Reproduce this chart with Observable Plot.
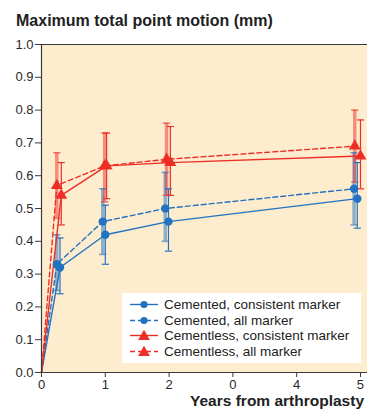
<!DOCTYPE html>
<html>
<head>
<meta charset="utf-8">
<script src="https://cdn.jsdelivr.net/npm/d3@7"></script>
<script src="https://cdn.jsdelivr.net/npm/@observablehq/plot@0.6"></script>
<style>
  html, body { margin: 0; padding: 0; background: #fff; }
  #wrap { position: relative; width: 367px; height: 410px; overflow: hidden; font-family: "Liberation Sans", Arial, sans-serif; color: #222; }
  #title { position: absolute; left: 16px; top: 13px; font-size: 16px; font-weight: bold; line-height: 16px; white-space: nowrap; }
  #xlabel { position: absolute; left: 190px; top: 393px; font-size: 15.5px; font-weight: bold; line-height: 15.5px; white-space: nowrap; }
  #legend { position: absolute; left: 122px; top: 293px; width: 239px; height: 70px; background: #fff; padding-top: 4px; box-sizing: border-box; }
  .row { height: 15.7px; line-height: 15.7px; font-size: 13.5px; white-space: nowrap; position: relative; }
  .row svg { position: absolute; left: 6px; top: 1px; }
  .row span { position: absolute; left: 42px; top: 0; }
  #chart { position: absolute; left: 0; top: 0; }
</style>
</head>
<body>
<div id="wrap">
  <div id="chart"></div>
  <div id="title"></div>
  <div id="xlabel"></div>
  <div id="legend"></div>
</div>
<script>
// ---- Data ----
const titleText = "Maximum total point motion (mm)";
const xLabelText = "Years from arthroplasty";
const seriesNames = [
  "Cemented, consistent marker",
  "Cemented, all marker",
  "Cementless, consistent marker",
  "Cementless, all marker"
];
const yTicks = [0, 0.1, 0.2, 0.3, 0.4, 0.5, 0.6, 0.7, 0.8, 0.9, 1.0];
const xTicks = [0, 1, 2, 3, 4, 5];
const xTickLabels = ["0", "1", "2", "0", "4", "5"];

const cemConsYears = [0, 0.29, 1.00, 1.99, 4.95];
const cemConsMean  = [0, 0.32, 0.42, 0.46, 0.53];
const cemConsLow   = [null, 0.24, 0.33, 0.37, 0.44];
const cemConsHigh  = [null, 0.41, 0.51, 0.56, 0.64];

const cemAllYears = [0, 0.24, 0.96, 1.94, 4.90];
const cemAllMean  = [0, 0.33, 0.46, 0.50, 0.56];
const cemAllLow   = [null, 0.25, 0.36, 0.40, 0.45];
const cemAllHigh  = [null, 0.42, 0.56, 0.61, 0.67];

const cmlConsYears = [0, 0.31, 1.02, 2.02, 5.00];
const cmlConsMean  = [0, 0.54, 0.63, 0.64, 0.66];
const cmlConsLow   = [null, 0.45, 0.53, 0.54, 0.56];
const cmlConsHigh  = [null, 0.64, 0.73, 0.75, 0.77];

const cmlAllYears = [0, 0.24, 0.99, 1.96, 4.91];
const cmlAllMean  = [0, 0.57, 0.63, 0.65, 0.69];
const cmlAllLow   = [null, 0.47, 0.52, 0.54, 0.58];
const cmlAllHigh  = [null, 0.67, 0.73, 0.76, 0.80];

// ---- Styles ----
const BLUE = "#2272c2";
const RED = "#ee2e26";
const BG = "#fdecce";
const AXIS = "#3a3a3a";

const seriesDefs = [
  {name: seriesNames[0], years: cemConsYears, mean: cemConsMean, low: cemConsLow, high: cemConsHigh, color: BLUE, dashed: false, symbol: "circle"},
  {name: seriesNames[1], years: cemAllYears, mean: cemAllMean, low: cemAllLow, high: cemAllHigh, color: BLUE, dashed: true, symbol: "circle"},
  {name: seriesNames[2], years: cmlConsYears, mean: cmlConsMean, low: cmlConsLow, high: cmlConsHigh, color: RED, dashed: false, symbol: "triangle"},
  {name: seriesNames[3], years: cmlAllYears, mean: cmlAllMean, low: cmlAllLow, high: cmlAllHigh, color: RED, dashed: true, symbol: "triangle"}
];

const rows = seriesDefs.flatMap(s => s.years.map((t, i) => ({
  series: s.name, t, mean: s.mean[i], low: s.low[i], high: s.high[i],
  color: s.color, dashed: s.dashed, symbol: s.symbol
})));
const withErr = rows.filter(d => d.low != null);

const capSymbol = {
  draw(context, size) {
    const w = Math.sqrt(size / Math.PI);
    context.moveTo(-w, 0);
    context.lineTo(w, 0);
  }
};

const marks = [Plot.frame({fill: BG, stroke: null})];

// error bars: "all marker" series as wide light bars, "consistent" as thin bars
for (const dashed of [true, false]) {
  const sub = withErr.filter(d => d.dashed === dashed);
  const opts = dashed
    ? {strokeWidth: 3.5, strokeOpacity: 0.5}
    : {strokeWidth: 1.2, strokeOpacity: 1};
  marks.push(
    Plot.ruleX(sub, {x: "t", y1: "low", y2: "high", stroke: "color", ...opts}),
    Plot.dot(sub, {x: "t", y: "low", symbol: capSymbol, r: 3.6, stroke: "color", fill: "none", strokeWidth: dashed ? 1.6 : 1.2, strokeOpacity: dashed ? 0.6 : 1}),
    Plot.dot(sub, {x: "t", y: "high", symbol: capSymbol, r: 3.6, stroke: "color", fill: "none", strokeWidth: dashed ? 1.6 : 1.2, strokeOpacity: dashed ? 0.6 : 1})
  );
}

for (const s of seriesDefs) {
  const sub = rows.filter(d => d.series === s.name);
  marks.push(Plot.line(sub, {
    x: "t", y: "mean", stroke: s.color, strokeWidth: 1.4,
    strokeDasharray: s.dashed ? "5,3" : null, curve: "linear"
  }));
}
for (const s of seriesDefs) {
  const sub = rows.filter(d => d.series === s.name && d.t > 0);
  marks.push(Plot.dot(sub, {
    x: "t", y: "mean", symbol: s.symbol, r: s.symbol === "circle" ? 4.2 : 4.4,
    fill: s.color, stroke: "none"
  }));
}

marks.push(
  Plot.ruleY([0], {stroke: AXIS, strokeWidth: 1.2}),
  Plot.ruleY([1], {stroke: AXIS, strokeWidth: 1.2}),
  Plot.ruleX([0], {stroke: AXIS, strokeWidth: 1.2}),
  Plot.axisY({ticks: yTicks, tickFormat: d3.format(".1f"), tickSize: 6, tickPadding: 2, label: null, stroke: AXIS, fontSize: 13}),
  Plot.axisX({ticks: xTicks, tickFormat: (d, i) => xTickLabels[xTicks.indexOf(d)], tickSize: 5, tickPadding: 2, label: null, stroke: AXIS, fontSize: 13})
);

const chart = Plot.plot({
  width: 367,
  height: 410,
  marginTop: 44,
  marginBottom: 38,
  marginLeft: 41,
  marginRight: 0,
  style: {fontFamily: "Liberation Sans, Arial, sans-serif", fontSize: "13px", color: "#2a2a2a", background: "transparent", overflow: "visible"},
  x: {domain: [0, 5.11]},
  y: {domain: [0, 1]},
  color: {type: "identity"},
  marks
});
document.getElementById("chart").appendChild(chart);

document.getElementById("title").textContent = titleText;
document.getElementById("xlabel").textContent = xLabelText;

// legend
const legend = document.getElementById("legend");
for (const s of seriesDefs) {
  const row = document.createElement("div");
  row.className = "row";
  const sym = s.symbol === "circle"
    ? `<circle cx="16" cy="6.5" r="3.6" fill="${s.color}"/>`
    : `<path d="${d3.symbol(d3.symbolTriangle, 60)()}" transform="translate(16,7.5)" fill="${s.color}"/>`;
  row.innerHTML = `<svg width="32" height="14"><line x1="2" x2="30" y1="6.5" y2="6.5" stroke="${s.color}" stroke-width="1.4" ${s.dashed ? 'stroke-dasharray="5,3"' : ''}/>${sym}</svg><span>${s.name}</span>`;
  legend.appendChild(row);
}
</script>
</body>
</html>
